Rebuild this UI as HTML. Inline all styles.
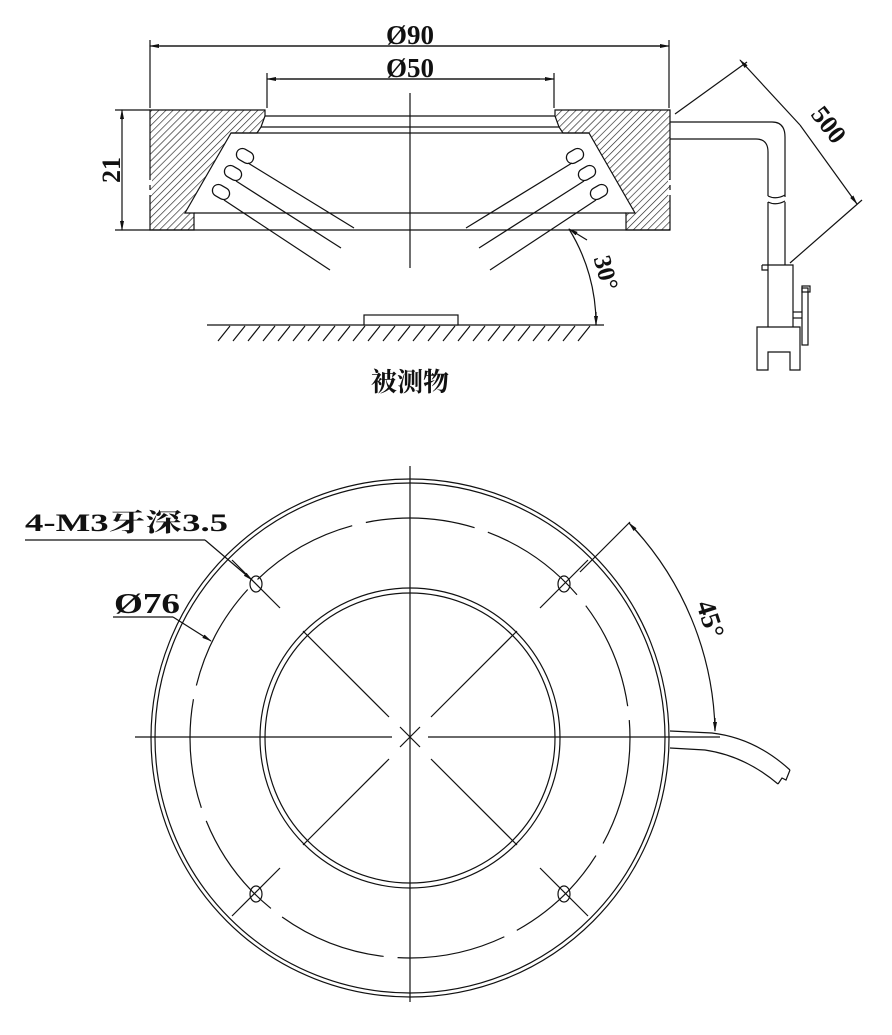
<!DOCTYPE html>
<html><head><meta charset="utf-8"><style>
html,body{margin:0;padding:0;background:#fff;width:892px;height:1035px;overflow:hidden}
svg{display:block}
text{font-family:"Liberation Serif","Noto Serif CJK SC",serif;font-weight:bold;fill:#111}
</style></head><body>
<svg width="892" height="1035" viewBox="0 0 892 1035" xmlns="http://www.w3.org/2000/svg">
<defs>
<pattern id="h" patternUnits="userSpaceOnUse" width="5" height="5" patternTransform="rotate(45)">
<rect width="5" height="5" fill="#fff"/><line x1="0" y1="0" x2="0" y2="5" stroke="#222" stroke-width="1.3"/>
</pattern>
<marker id="a" markerWidth="10" markerHeight="6" refX="9" refY="3" orient="auto" markerUnits="userSpaceOnUse"><path d="M0,1 L10,3 L0,5z" fill="#111"/></marker>
</defs>
<g stroke="#111" fill="none" stroke-width="1.2">
<line x1="150" y1="40" x2="150" y2="108"/><line x1="669" y1="40" x2="669" y2="108"/>
<line x1="160" y1="46" x2="669" y2="46" marker-end="url(#a)"/><line x1="660" y1="46" x2="150" y2="46" marker-end="url(#a)"/>
<line x1="267" y1="73" x2="267" y2="108"/><line x1="554" y1="73" x2="554" y2="108"/>
<line x1="280" y1="79" x2="554" y2="79" marker-end="url(#a)"/><line x1="540" y1="79" x2="267" y2="79" marker-end="url(#a)"/>
<line x1="410" y1="93" x2="410" y2="268"/>
<line x1="115" y1="110" x2="150" y2="110"/><line x1="115" y1="230" x2="150" y2="230"/>
<line x1="122" y1="120" x2="122" y2="110" marker-end="url(#a)"/><line x1="122" y1="220" x2="122" y2="230" marker-end="url(#a)"/><line x1="122" y1="118" x2="122" y2="222"/>
<polygon points="150,110 265,110 265,116 261,127 257,133 231,133 185,213 194,213 194,230 150,230" fill="url(#h)"/>
<polygon points="670,110 555,110 555,116 559,127 563,133 589,133 635,213 626,213 626,230 670,230" fill="url(#h)"/>
<rect x="146" y="180" width="6" height="5" fill="#fff" stroke="none"/><rect x="146" y="190" width="6" height="5" fill="#fff" stroke="none"/>
<rect x="668" y="180" width="6" height="5" fill="#fff" stroke="none"/><rect x="668" y="190" width="6" height="5" fill="#fff" stroke="none"/>
<line x1="265" y1="116" x2="555" y2="116"/><line x1="261" y1="127" x2="559" y2="127"/><line x1="231" y1="133" x2="589" y2="133"/>
<line x1="194" y1="213" x2="626" y2="213"/><line x1="150" y1="230" x2="670" y2="230"/>
<g fill="#fff">
<rect x="236" y="150" width="18" height="12" rx="6" transform="rotate(30 245 156)"/>
<rect x="224" y="167" width="18" height="12" rx="6" transform="rotate(30 233 173)"/>
<rect x="212" y="186" width="18" height="12" rx="6" transform="rotate(30 221 192)"/>
<rect x="566" y="150" width="18" height="12" rx="6" transform="rotate(-30 575 156)"/>
<rect x="578" y="167" width="18" height="12" rx="6" transform="rotate(-30 587 173)"/>
<rect x="590" y="186" width="18" height="12" rx="6" transform="rotate(-30 599 192)"/>
</g>
<line x1="248" y1="163" x2="354" y2="228"/><line x1="236" y1="181" x2="341" y2="248"/><line x1="224" y1="200" x2="330" y2="270"/>
<line x1="572" y1="163" x2="466" y2="228"/><line x1="584" y1="181" x2="479" y2="248"/><line x1="596" y1="200" x2="490" y2="270"/>
<path d="M569,229 A180,180 0 0 1 596,325"/>
<line x1="587" y1="240" x2="569" y2="229" marker-end="url(#a)"/><line x1="596" y1="312" x2="596" y2="325" marker-end="url(#a)"/>
<line x1="207" y1="325" x2="604" y2="325"/>
<rect x="364" y="315" width="94" height="10" fill="#fff"/>
<path d="M218,341 L230,326 M233,341 L245,326 M248,341 L260,326 M263,341 L275,326 M278,341 L290,326 M293,341 L305,326 M308,341 L320,326 M323,341 L335,326 M338,341 L350,326 M353,341 L365,326 M368,341 L380,326 M383,341 L395,326 M398,341 L410,326 M413,341 L425,326 M428,341 L440,326 M443,341 L455,326 M458,341 L470,326 M473,341 L485,326 M488,341 L500,326 M503,341 L515,326 M518,341 L530,326 M533,341 L545,326 M548,341 L560,326 M563,341 L575,326 M578,341 L590,326"/>
<path d="M670,122 L772,122 Q785,122 785,137 L785,197"/>
<path d="M670,139 L756,139 Q768,139 768,152 L768,196"/>
<path d="M768,196 Q776,200 785,195 M768,202 Q776,206 785,201"/>
<line x1="785" y1="202" x2="785" y2="265"/><line x1="768" y1="202" x2="768" y2="265"/>
<path d="M762,265 L793,265 L793,327 M768,265 L768,327 M762,265 L762,270 L768,270"/>
<path d="M757,327 L800,327 L800,370 L790,370 L790,352 L768,352 L768,370 L757,370Z"/>
<rect x="802" y="288" width="6" height="57"/><rect x="802" y="286" width="8" height="6"/>
<line x1="793" y1="312" x2="802" y2="312"/><line x1="793" y1="318" x2="802" y2="318"/>
<line x1="675" y1="114" x2="747" y2="62"/><line x1="790" y1="263" x2="862" y2="200"/>
<line x1="800" y1="125" x2="740" y2="60" marker-end="url(#a)"/><line x1="800" y1="125" x2="857" y2="204" marker-end="url(#a)"/>
</g>
<text x="410" y="44" font-size="27" text-anchor="middle">Ø90</text>
<text x="410" y="77" font-size="27" text-anchor="middle">Ø50</text>
<text transform="translate(120,170) rotate(-90)" font-size="26" text-anchor="middle">21</text>
<text transform="translate(822,130) rotate(52)" font-size="26" text-anchor="middle">500</text>
<text transform="translate(598,275) rotate(75)" font-size="25" text-anchor="middle">30°</text>
<text x="410" y="391" font-size="26" text-anchor="middle" font-family="'Noto Sans CJK SC',sans-serif">被测物</text>

<g stroke="#111" fill="none" stroke-width="1.2">
<circle cx="410" cy="738" r="259"/><circle cx="410" cy="738" r="255"/>
<circle cx="410" cy="738" r="220" stroke-dasharray="110 14"/>
<circle cx="410" cy="738" r="150"/><circle cx="410" cy="738" r="145"/>
<line x1="135" y1="737" x2="392" y2="737"/><line x1="428" y1="737" x2="720" y2="737"/>
<line x1="410" y1="466" x2="410" y2="1002"/>
<line x1="400" y1="727" x2="420" y2="747"/><line x1="420" y1="727" x2="400" y2="747"/>
<line x1="431" y1="717" x2="517" y2="631"/><line x1="389" y1="717" x2="303" y2="631"/>
<line x1="431" y1="759" x2="517" y2="845"/><line x1="389" y1="759" x2="303" y2="845"/>
<line x1="232" y1="560" x2="280" y2="608"/><line x1="588" y1="560" x2="540" y2="608"/>
<line x1="232" y1="916" x2="280" y2="868"/><line x1="588" y1="916" x2="540" y2="868"/>
<ellipse cx="256" cy="584" rx="6" ry="8"/><ellipse cx="564" cy="584" rx="6" ry="8"/>
<ellipse cx="256" cy="894" rx="6" ry="8"/><ellipse cx="564" cy="894" rx="6" ry="8"/>
<line x1="25" y1="540" x2="205" y2="540"/><line x1="205" y1="540" x2="252" y2="580" marker-end="url(#a)"/>
<line x1="113" y1="617" x2="173" y2="617"/><line x1="173" y1="617" x2="211" y2="641" marker-end="url(#a)"/>
<line x1="580" y1="572" x2="630" y2="522"/>
<path d="M629,523 A310,310 0 0 1 715,730"/>
<line x1="640" y1="535" x2="629" y2="523" marker-end="url(#a)"/><line x1="715" y1="718" x2="715" y2="731" marker-end="url(#a)"/>
<path d="M670,731 L712,733 Q755,738 790,770"/>
<path d="M670,748 L705,750 Q745,756 778,784"/>
<path d="M778,784 L782,778 L786,780 L790,770"/>
</g>
<text x="25" y="531" font-size="25" textLength="203" lengthAdjust="spacingAndGlyphs">4-M3牙深3.5</text>
<text x="114" y="613" font-size="28" font-weight="normal" textLength="66" lengthAdjust="spacingAndGlyphs">Ø76</text>
<text transform="translate(702,622) rotate(72)" font-size="27" text-anchor="middle">45°</text>
</svg>
</body></html>
